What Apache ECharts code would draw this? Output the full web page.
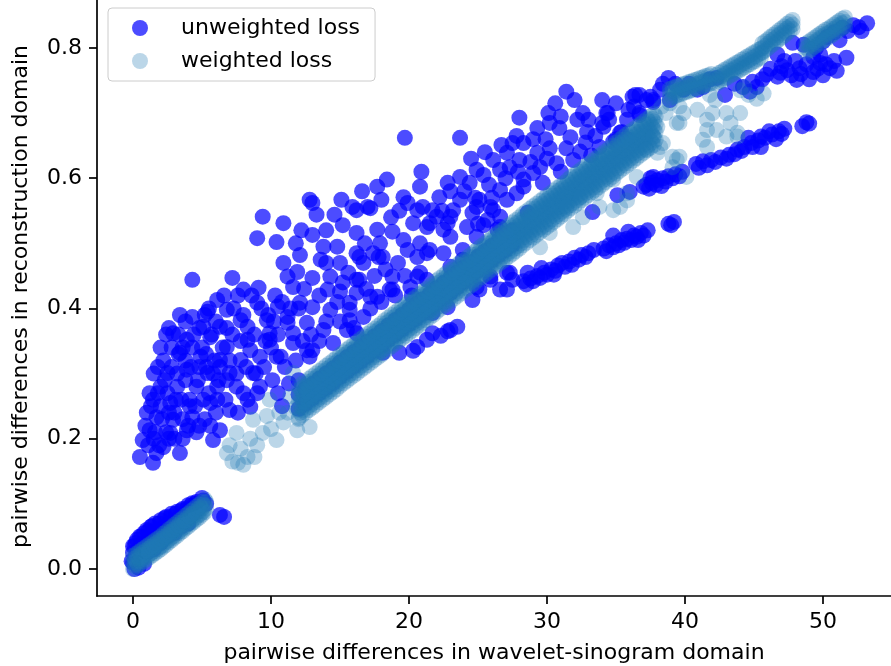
<!DOCTYPE html>
<html lang="en">
<head>
    <meta charset="UTF-8">
    <title>Pairwise differences</title>
    <style>
        html, body { margin: 0; padding: 0; background: #fff; }
        #chart { width: 891px; height: 666px; }
    </style>
    <script src="https://cdn.jsdelivr.net/npm/echarts@6/dist/echarts.min.js"></script>
</head>
<body>
    <div id="chart"></div>
    <script>
        // tick labels
        var xTicks = [0, 10, 20, 30, 40, 50];
        var yTicks = [0, 0.2, 0.4, 0.6, 0.8];

        // unweighted loss
        var unweightedLow = [
            [0.0,0.01],[0.0,0.025],[0.1,0.035],[0.2,0.02],[0.3,0.045],[0.4,0.03],[0.5,0.05],[0.6,0.038],
            [0.8,0.055],[0.9,0.042],[1.0,0.06],[1.2,0.05],[1.3,0.065],[1.5,0.055],[1.6,0.07],[1.8,0.06],
            [2.0,0.075],[2.2,0.065],[2.4,0.08],[2.6,0.07],[2.8,0.085],[3.0,0.075],[3.2,0.088],[3.4,0.08],
            [3.6,0.092],[3.8,0.085],[4.0,0.098],[4.3,0.09],[4.5,0.1],[4.8,0.095],[5.1,0.105],[0.3,0.01],
            [0.6,0.015],[1.0,0.025],[1.5,0.03],[2.0,0.04],[2.5,0.05],[3.0,0.055],[3.5,0.065],[4.0,0.07],
            [6.3,0.083],[6.6,0.08],[0.1,0.0],[-0.1,0.012],[4.3,0.101],[5.0,0.109],
            [0.2,0.04],[0.6,0.05],[1.1,0.058],[1.4,0.066],[1.9,0.07],[2.3,0.078],[2.7,0.08],[3.1,0.085],
            [3.5,0.09],[3.9,0.092],[4.2,0.097],[4.6,0.103],[4.9,0.1],[5.3,0.1],[0.0,0.035],[0.4,0.002],[0.8,0.008]
        ];
        var unweightedCloud = [
            [9.4,0.541],[10.9,0.531],[9.0,0.508],[10.4,0.502],[13.0,0.562],[13.3,0.544],[13.0,0.513],[12.1,0.482],
            [10.9,0.47],[11.2,0.449],[11.6,0.433],[13.0,0.447],[4.3,0.444],[7.2,0.447],[8.0,0.429],[9.1,0.432],
            [9.0,0.409],[10.5,0.403],[12.1,0.409],[6.1,0.413],[5.4,0.395],[6.8,0.398],[4.3,0.387],[2.9,0.362],
            [5.1,0.372],[6.3,0.372],[7.8,0.382],[9.7,0.382],[11.2,0.387],[3.9,0.352],[5.6,0.356],[6.8,0.341],
            [8.3,0.352],[9.9,0.352],[11.6,0.362],[12.6,0.336],[3.4,0.332],[4.9,0.326],[6.3,0.321],[7.8,0.321],
            [9.2,0.326],[10.7,0.326],[2.5,0.301],[3.9,0.306],[5.4,0.301],[7.0,0.301],[8.7,0.301],[10.1,0.29],
            [2.0,0.28],[3.2,0.28],[4.6,0.28],[6.1,0.28],[7.5,0.28],[9.0,0.27],[1.45,0.26],[2.7,0.255],
            [4.1,0.26],[5.6,0.255],[7.0,0.244],[8.5,0.249],[1.7,0.233],[2.9,0.229],[4.3,0.233],[6.3,0.213],
            [1.2,0.213],[2.7,0.209],[3.9,0.213],[5.8,0.198],[0.7,0.198],[2.2,0.187],[3.4,0.178],[0.5,0.172],
            [1.45,0.163],[1.7,0.178],
            [1.0,0.24],[1.5,0.3],[2.0,0.25],[2.2,0.32],[2.5,0.27],[2.8,0.34],[3.0,0.24],[3.2,0.3],
            [3.5,0.26],[3.6,0.34],[3.8,0.29],[4.0,0.22],[4.2,0.31],[4.4,0.36],[4.5,0.25],[4.7,0.29],
            [5.0,0.34],[5.2,0.23],[5.3,0.31],[5.5,0.27],[5.7,0.36],[5.9,0.32],[6.0,0.24],[6.2,0.29],
            [6.5,0.34],[6.7,0.26],[7.0,0.32],[7.2,0.36],[7.5,0.3],[7.8,0.35],[8.0,0.39],[8.2,0.31],
            [2.4,0.21],[1.9,0.19],[3.0,0.2],[1.2,0.27],[0.9,0.22],[2.6,0.37],[3.4,0.39],[5.5,0.4],
            [6.6,0.42],[9.5,0.31],[10.0,0.34],[8.8,0.36],[9.2,0.28],[8.0,0.27],[9.8,0.39],[10.5,0.36],
            [11.0,0.31],[11.8,0.32],[10.3,0.42],[10.5,0.27],[11.3,0.285],[12.0,0.29],[10.8,0.25],
            [1.3,0.25],[1.8,0.27],[2.3,0.29],[2.8,0.31],[3.3,0.33],[3.8,0.32],[4.3,0.34],[4.8,0.31],
            [5.3,0.33],[5.8,0.3],[6.3,0.31],[6.8,0.29],[1.6,0.21],[2.1,0.23],[2.6,0.24],[3.1,0.26],
            [3.6,0.23],[4.1,0.25],[4.6,0.21],[5.1,0.26],[5.6,0.22],[6.1,0.26],[3.3,0.36],[3.8,0.38],
            [4.8,0.37],[5.2,0.39],[6.0,0.38],[6.8,0.37],[7.3,0.4],[2.0,0.34],[2.4,0.36],[1.8,0.31],
            [1.1,0.19],[1.5,0.2],[2.6,0.2],[3.6,0.2],[4.8,0.22],[7.6,0.24],[8.3,0.26],[8.9,0.3],
            [9.6,0.35],[10.2,0.38],[9.3,0.4],[8.6,0.42],[7.6,0.42],[10.8,0.41],[11.4,0.4],[12.3,0.35],[12.9,0.36]
        ];
        var unweightedMid = [
            [19.7,0.662],[20.9,0.61],[20.8,0.587],[18.4,0.598],[17.7,0.587],[18.0,0.567],[19.6,0.571],[12.8,0.567],
            [15.1,0.567],[15.9,0.556],[17.2,0.554],[14.6,0.544],[15.2,0.528],[16.2,0.516],[17.7,0.521],[18.8,0.518],
            [19.9,0.562],[21.0,0.556],[22.0,0.541],[20.3,0.531],[21.5,0.531],[13.8,0.495],[14.8,0.495],[13.6,0.475],
            [16.2,0.485],[17.4,0.485],[18.1,0.479],[16.7,0.47],[18.8,0.449],[20.6,0.479],[21.3,0.485],[11.9,0.456],
            [14.3,0.449],[15.6,0.455],[16.4,0.444],[14.1,0.429],[15.0,0.426],[16.2,0.424],[17.7,0.418],[18.8,0.429],
            [13.0,0.402],[14.3,0.398],[15.7,0.398],[16.7,0.387],[11.2,0.378],[12.6,0.378],[13.8,0.367],[15.5,0.367],
            [9.9,0.362],[11.6,0.347],[13.0,0.336],[14.5,0.347],[8.3,0.372],[8.5,0.336],[10.4,0.326],[12.8,0.326],
            [19.6,0.505],[20.6,0.449],
            [16.2,0.551],[17.0,0.556],[20.6,0.551],[21.7,0.551],[23.0,0.541],[24.9,0.556],[25.9,0.556],[26.6,0.541],
            [21.3,0.525],[22.5,0.521],[25.4,0.528],[16.4,0.479],[17.8,0.479],[21.5,0.49],[16.2,0.444],[20.8,0.455],
            [23.0,0.464],[23.9,0.475],[25.1,0.479],[15.7,0.409],[17.2,0.418],[18.6,0.429],[20.1,0.433],[21.3,0.444],
            [15.7,0.382],[16.2,0.362],[23.0,0.367],[23.5,0.372],[20.6,0.341],[21.7,0.362],[21.7,0.393],[22.8,0.402],
            [21.3,0.352],[19.3,0.332],[18.1,0.332],[24.9,0.433],[25.9,0.444],[27.3,0.455],[27.1,0.429],
            [20.3,0.335],[22.3,0.358],[22.8,0.365],
            [12.4,0.43],[13.5,0.42],[14.8,0.41],[15.2,0.44],[16.9,0.43],[17.5,0.45],[18.3,0.46],[19.2,0.47],
            [19.9,0.49],[20.8,0.5],[14.0,0.47],[15.0,0.47],[16.8,0.5],[17.9,0.5],[18.7,0.54],[19.3,0.55],
            [14.0,0.52],[12.2,0.52],[11.8,0.5],[16.6,0.58],[15.0,0.38],[14.0,0.38],[12.0,0.4],[17.2,0.4],
            [19.7,0.45],[18.0,0.41],[13.5,0.35],[16.0,0.37],[19.0,0.42],[20.2,0.42]
        ];
        var unweightedUpper = [
            [31.4,0.733],[36.4,0.728],[37.7,0.717],[28.0,0.693],[30.1,0.7],[29.3,0.677],[30.2,0.685],[30.9,0.677],
            [32.6,0.7],[32.2,0.69],[34.4,0.7],[35.9,0.705],[36.7,0.697],[34.0,0.685],[32.9,0.671],[31.7,0.663],
            [35.4,0.671],[23.7,0.662],[26.7,0.651],[27.5,0.654],[28.3,0.654],[27.1,0.639],[26.1,0.628],[29.3,0.639],
            [30.2,0.646],[31.4,0.646],[32.4,0.641],[33.8,0.648],[34.8,0.656],[28.0,0.628],[29.5,0.617],[30.7,0.623],
            [31.9,0.628],[24.9,0.613],[23.7,0.602],[25.4,0.605],[26.6,0.613],[27.3,0.617],[29.0,0.608],[22.8,0.593],
            [24.4,0.593],[28.3,0.598],[29.7,0.593],[27.8,0.577],[26.6,0.582],[25.1,0.567],[23.7,0.567],[22.2,0.571],
            [23.2,0.551],[24.6,0.547],[26.1,0.551],[27.1,0.567],[28.3,0.587],[22.8,0.531],[24.2,0.525],[25.7,0.536],
            [28.6,0.547],[23.0,0.51],[24.9,0.51],[26.4,0.521],[22.5,0.485],[23.9,0.49],[35.1,0.574],[36.0,0.579],
            [33.3,0.548],[27.1,0.455],[25.9,0.449],[25.1,0.429],[26.6,0.429],[27.5,0.444],[24.6,0.413],[23.0,0.424],
            [23.7,0.449],[34.5,0.69],[35.0,0.66],[35.8,0.69],[36.3,0.71],
            [23.0,0.58],[24.0,0.58],[25.8,0.59],[27.0,0.6],[28.8,0.625],[30.0,0.63],[31.0,0.61],[32.8,0.655],
            [33.5,0.665],[31.0,0.695],[29.0,0.66],[27.8,0.665],[25.5,0.64],[24.5,0.63],[33.0,0.69],[35.0,0.715],
            [34.0,0.72],[32.0,0.72],[30.6,0.715],[26.0,0.57],[24.8,0.57],[27.9,0.61],[29.9,0.66],[33.2,0.635],
            [35.8,0.66],[22.4,0.55],[25.0,0.53],[26.6,0.525]
        ];
        var unweightedStreaks = [
            [28.3,0.442],[28.8,0.446],[29.3,0.45],[29.8,0.455],[30.3,0.46],[30.8,0.466],[31.1,0.47],[31.6,0.472],
            [32.0,0.478],[32.5,0.482],[33.0,0.485],[34.1,0.492],[34.5,0.497],[35.0,0.5],[35.4,0.505],[35.8,0.507],
            [36.3,0.512],[36.8,0.516],[37.3,0.52],[38.8,0.53],[39.2,0.533],[28.6,0.455],[29.6,0.462],[30.5,0.452],
            [34.8,0.512],[35.9,0.518],[33.4,0.49],[36.6,0.505],
            [28.5,0.437],[29.0,0.442],[29.5,0.447],[30.0,0.452],[30.6,0.458],[31.3,0.464],[31.8,0.467],[32.3,0.475],
            [32.8,0.479],[34.3,0.488],[34.8,0.494],[35.2,0.497],[35.6,0.501],[36.1,0.505],[36.5,0.51],[37.0,0.512],[39.0,0.528],
            [37.2,0.59],[37.6,0.593],[38.0,0.597],[38.4,0.6],[38.8,0.603],[39.3,0.606],[39.8,0.61],[40.8,0.622],
            [41.3,0.626],[41.9,0.628],[42.6,0.632],[43.2,0.636],[43.8,0.644],[44.3,0.648],[44.8,0.654],[45.3,0.658],
            [45.8,0.662],[46.3,0.667],[46.8,0.672],[47.2,0.676],[48.5,0.68],[49.0,0.684],[37.5,0.6],[38.3,0.588],
            [44.6,0.662],[45.5,0.648],[46.6,0.66],[37.7,0.602],[37.0,0.587],
            [37.4,0.584],[37.9,0.59],[38.6,0.595],[39.1,0.6],[39.6,0.603],[41.0,0.616],[41.6,0.62],[42.2,0.625],
            [43.0,0.63],[43.6,0.637],[44.1,0.642],[44.9,0.648],[45.5,0.664],[46.1,0.672],[47.0,0.668],[48.8,0.686]
        ];
        var unweightedTop = [
            [38.8,0.754],[37.5,0.725],[38.2,0.736],[36.7,0.728],[36.7,0.7],[39.9,0.736],[40.9,0.736],[42.3,0.754],
            [42.9,0.728],[44.2,0.74],[44.9,0.748],[44.7,0.733],[45.9,0.759],[46.7,0.79],[46.7,0.756],[47.4,0.766],
            [48.1,0.751],[48.3,0.769],[49.3,0.763],[49.8,0.777],[50.5,0.769],[51.7,0.785],[47.8,0.808],[48.6,0.805],
            [50.3,0.817],[51.4,0.831],[52.2,0.835],[53.2,0.838],[51.2,0.812],[49.3,0.786],[36.2,0.725],[34.3,0.7],
            [35.3,0.67],[34.1,0.679],[37.7,0.72],[47.0,0.772],[47.7,0.758],[48.8,0.775],[49.0,0.752],[49.6,0.768],
            [50.0,0.758],[48.0,0.78],[46.2,0.768],[46.9,0.762],[45.6,0.752],[50.8,0.824],[51.8,0.826],[52.6,0.832],
            [50.0,0.81],[49.5,0.8],[40.3,0.745],[41.3,0.74],[41.8,0.752],[38.9,0.72],[37.2,0.72],
            [47.2,0.78],[48.4,0.76],[50.2,0.775],[50.8,0.78],[51.0,0.765],[49.8,0.79],[43.6,0.745],[45.2,0.74],
            [39.3,0.745],[38.4,0.745],[52.8,0.826]
        ];
        // unweighted points lying inside the diagonal band (mostly hidden under the weighted ones)
        var unweightedBandX = [12,12.5,13,13.5,14,14.5,15,15.5,16,16.5,17,17.5,18,18.5,19,19.5,20,20.5,21,21.5,22,22.5,23,23.5,24,24.5,25,25.5,26,26.5,27,27.5];
        var unweightedBandLow = [0.246,0.254,0.262,0.270,0.278,0.286,0.295,0.303,0.311,0.319,0.327,0.335,0.343,0.352,0.360,0.368,0.376,0.384,0.392,0.400,0.409,0.417,0.425,0.433,0.441,0.449,0.458,0.466,0.474,0.482,0.490,0.498];
        var unweightedBandHigh = [0.268,0.276,0.284,0.292,0.300,0.308,0.317,0.325,0.333,0.341,0.349,0.357,0.365,0.374,0.382,0.390,0.398,0.406,0.414,0.422,0.431,0.439,0.447,0.455,0.463,0.471,0.480,0.488,0.496,0.504,0.512,0.520];

        // weighted loss: the dense low cluster, x lists and rows across it
        var weightedLowX = [0,0.2,0.4,0.6,0.8,1.0,1.2,1.4,1.6,1.8,2.0,2.2,2.4,2.6,2.8,3.0,3.2,3.4,3.6,3.8,4.0,4.2,4.4,4.6,4.8,5.0,5.2];
        var weightedLowA = [0.000,0.003,0.006,0.009,0.012,0.015,0.018,0.021,0.024,0.027,0.030,0.034,0.037,0.041,0.044,0.048,0.051,0.055,0.058,0.062,0.065,0.069,0.072,0.076,0.079,0.083,0.087];
        var weightedLowB = [0.010,0.013,0.016,0.019,0.022,0.025,0.028,0.031,0.034,0.037,0.040,0.044,0.047,0.051,0.054,0.058,0.061,0.065,0.068,0.072,0.075,0.079,0.082,0.086,0.089,0.093,0.097];
        var weightedLowC = [0.020,0.023,0.026,0.029,0.032,0.035,0.038,0.041,0.044,0.047,0.050,0.054,0.057,0.061,0.064,0.068,0.071,0.075,0.078,0.082,0.085,0.089,0.092,0.096,0.099,0.103,0.107];
        var weightedLowX2 = [0.1,0.3,0.5,0.7,0.9,1.1,1.3,1.5,1.7,1.9,2.1,2.3,2.5,2.7,2.9,3.1,3.3,3.5,3.7,3.9,4.1,4.3,4.5,4.7,4.9,5.1,5.3];
        var weightedLowD = [0.006,0.009,0.012,0.015,0.018,0.021,0.024,0.027,0.030,0.033,0.036,0.040,0.043,0.047,0.050,0.054,0.057,0.061,0.064,0.068,0.071,0.075,0.078,0.082,0.085,0.089,0.093];
        var weightedLowE = [0.016,0.019,0.022,0.025,0.028,0.031,0.034,0.037,0.040,0.043,0.046,0.050,0.053,0.057,0.060,0.064,0.067,0.071,0.074,0.078,0.081,0.085,0.088,0.092,0.095,0.099,0.103];

        var weightedBandStart = [
            [6.8,0.178],[7.2,0.165],[7.5,0.209],[7.8,0.185],[8.3,0.172],[8.5,0.2],[8.7,0.229],[9.0,0.19],
            [9.4,0.209],[9.7,0.235],[9.9,0.26],[10.0,0.215],[10.4,0.198],[10.6,0.24],[10.9,0.225],[11.2,0.24],
            [11.4,0.265],[11.6,0.301],[11.9,0.213],[11.8,0.248],[12.0,0.23],[12.6,0.28],[12.8,0.218],[7.0,0.19],
            [8.0,0.16],[7.6,0.163],[8.8,0.172]
        ];

        // main diagonal band: x positions and rows across the band
        var bandX = [
            12,12.25,12.5,12.75,13,13.25,13.5,13.75,14,14.25,14.5,14.75,15,15.25,15.5,15.75,
            16,16.25,16.5,16.75,17,17.25,17.5,17.75,18,18.25,18.5,18.75,19,19.25,19.5,19.75,
            20,20.25,20.5,20.75,21,21.25,21.5,21.75,22,22.25,22.5,22.75,23,23.25,23.5,23.75,
            24,24.25,24.5,24.75,25,25.25,25.5,25.75,26,26.25,26.5,26.75,27,27.25,27.5,27.75,
            28,28.25,28.5,28.75,29,29.25,29.5,29.75,30,30.25,30.5,30.75,31,31.25,31.5,31.75,
            32,32.25,32.5,32.75,33,33.25,33.5,33.75,34,34.25,34.5,34.75,35,35.25,35.5,35.75,
            36,36.25,36.5,36.75,37,37.25,37.5,37.75
        ];
        var bandA = [
            0.232,0.236,0.240,0.244,0.248,0.252,0.256,0.260,0.264,0.268,0.272,0.276,0.281,0.285,0.289,0.293,
            0.297,0.301,0.305,0.309,0.313,0.317,0.321,0.325,0.329,0.334,0.338,0.342,0.346,0.350,0.354,0.358,
            0.362,0.366,0.370,0.374,0.378,0.382,0.386,0.390,0.395,0.399,0.403,0.407,0.411,0.415,0.419,0.423,
            0.427,0.431,0.435,0.439,0.444,0.448,0.452,0.456,0.460,0.464,0.468,0.472,0.476,0.480,0.484,0.488,
            0.492,0.497,0.501,0.505,0.509,0.513,0.517,0.521,0.525,0.529,0.533,0.537,0.541,0.545,0.550,0.554,
            0.558,0.562,0.566,0.570,0.574,0.578,0.582,0.586,0.590,0.594,0.598,0.602,0.607,0.611,0.615,0.619,
            0.623,0.627,0.631,0.635,0.639,0.643,0.647,0.651
        ];
        var bandB = [
            0.244,0.248,0.252,0.256,0.260,0.264,0.268,0.272,0.276,0.280,0.284,0.288,0.293,0.297,0.301,0.305,
            0.309,0.313,0.317,0.321,0.325,0.329,0.333,0.337,0.341,0.346,0.350,0.354,0.358,0.362,0.366,0.370,
            0.374,0.378,0.382,0.386,0.390,0.394,0.398,0.402,0.407,0.411,0.415,0.419,0.423,0.427,0.431,0.435,
            0.439,0.443,0.447,0.451,0.456,0.460,0.464,0.468,0.472,0.476,0.480,0.484,0.488,0.492,0.496,0.500,
            0.504,0.509,0.513,0.517,0.521,0.525,0.529,0.533,0.537,0.541,0.545,0.549,0.553,0.557,0.562,0.566,
            0.570,0.574,0.578,0.582,0.586,0.590,0.594,0.598,0.602,0.606,0.610,0.614,0.619,0.623,0.627,0.631,
            0.635,0.639,0.643,0.647,0.651,0.655,0.659,0.663
        ];
        var bandC = [
            0.256,0.260,0.264,0.268,0.272,0.276,0.280,0.284,0.288,0.292,0.296,0.300,0.305,0.309,0.313,0.317,
            0.321,0.325,0.329,0.333,0.337,0.341,0.345,0.349,0.353,0.358,0.362,0.366,0.370,0.374,0.378,0.382,
            0.386,0.390,0.394,0.398,0.402,0.406,0.410,0.414,0.419,0.423,0.427,0.431,0.435,0.439,0.443,0.447,
            0.451,0.455,0.459,0.463,0.468,0.472,0.476,0.480,0.484,0.488,0.492,0.496,0.500,0.504,0.508,0.512,
            0.516,0.521,0.525,0.529,0.533,0.537,0.541,0.545,0.549,0.553,0.557,0.561,0.565,0.569,0.574,0.578,
            0.582,0.586,0.590,0.594,0.598,0.602,0.606,0.610,0.614,0.618,0.622,0.626,0.631,0.635,0.639,0.643,
            0.647,0.651,0.655,0.659,0.663,0.667,0.671,0.675
        ];
        var bandD = [
            0.268,0.272,0.276,0.280,0.284,0.288,0.292,0.296,0.300,0.304,0.308,0.312,0.317,0.321,0.325,0.329,
            0.333,0.337,0.341,0.345,0.349,0.353,0.357,0.361,0.365,0.370,0.374,0.378,0.382,0.386,0.390,0.394,
            0.398,0.402,0.406,0.410,0.414,0.418,0.422,0.426,0.431,0.435,0.439,0.443,0.447,0.451,0.455,0.459,
            0.463,0.467,0.471,0.475,0.480,0.484,0.488,0.492,0.496,0.500,0.504,0.508,0.512,0.516,0.520,0.524,
            0.528,0.533,0.537,0.541,0.545,0.549,0.553,0.557,0.561,0.565,0.569,0.573,0.577,0.581,0.586,0.590,
            0.594,0.598,0.602,0.606,0.610,0.614,0.618,0.622,0.626,0.630,0.634,0.638,0.643,0.647,0.651,0.655,
            0.659,0.663,0.667,0.671,0.675,0.679,0.683,0.687
        ];
        var bandE = [
            0.280,0.284,0.288,0.292,0.296,0.300,0.304,0.308,0.312,0.316,0.320,0.324,0.329,0.333,0.337,0.341,
            0.345,0.349,0.353,0.357,0.361,0.365,0.369,0.373,0.377,0.382,0.386,0.390,0.394,0.398,0.402,0.406,
            0.410,0.414,0.418,0.422,0.426,0.430,0.434,0.438,0.443,0.447,0.451,0.455,0.459,0.463,0.467,0.471,
            0.475,0.479,0.483,0.487,0.492,0.496,0.500,0.504,0.508,0.512,0.516,0.520,0.524,0.528,0.532,0.536,
            0.540,0.545,0.549,0.553,0.557,0.561,0.565,0.569,0.573,0.577,0.581,0.585,0.589,0.593,0.598,0.602,
            0.606,0.610,0.614,0.618,0.622,0.626,0.630,0.634,0.638,0.642,0.646,0.650,0.655,0.659,0.663,0.667,
            0.671,0.675,0.679,0.683,0.687,0.691,0.695,0.699
        ];
        var bandX2 = [
            12.125,12.375,12.625,12.875,13.125,13.375,13.625,13.875,14.125,14.375,14.625,14.875,15.125,15.375,15.625,15.875,
            16.125,16.375,16.625,16.875,17.125,17.375,17.625,17.875,18.125,18.375,18.625,18.875,19.125,19.375,19.625,19.875,
            20.125,20.375,20.625,20.875,21.125,21.375,21.625,21.875,22.125,22.375,22.625,22.875,23.125,23.375,23.625,23.875,
            24.125,24.375,24.625,24.875,25.125,25.375,25.625,25.875,26.125,26.375,26.625,26.875,27.125,27.375,27.625,27.875,
            28.125,28.375,28.625,28.875,29.125,29.375,29.625,29.875,30.125,30.375,30.625,30.875,31.125,31.375,31.625,31.875,
            32.125,32.375,32.625,32.875,33.125,33.375,33.625,33.875,34.125,34.375,34.625,34.875,35.125,35.375,35.625,35.875,
            36.125,36.375,36.625,36.875,37.125,37.375,37.625,37.875
        ];
        var bandF = [
            0.240,0.244,0.248,0.252,0.256,0.260,0.264,0.268,0.272,0.276,0.280,0.284,0.289,0.293,0.297,0.301,
            0.305,0.309,0.313,0.317,0.321,0.325,0.329,0.333,0.337,0.342,0.346,0.350,0.354,0.358,0.362,0.366,
            0.370,0.374,0.378,0.382,0.386,0.390,0.394,0.398,0.403,0.407,0.411,0.415,0.419,0.423,0.427,0.431,
            0.435,0.439,0.443,0.447,0.452,0.456,0.460,0.464,0.468,0.472,0.476,0.480,0.484,0.488,0.492,0.496,
            0.500,0.505,0.509,0.513,0.517,0.521,0.525,0.529,0.533,0.537,0.541,0.545,0.549,0.553,0.558,0.562,
            0.566,0.570,0.574,0.578,0.582,0.586,0.590,0.594,0.598,0.602,0.606,0.610,0.615,0.619,0.623,0.627,
            0.631,0.635,0.639,0.643,0.647,0.651,0.655,0.659
        ];
        var bandG = [
            0.252,0.256,0.260,0.264,0.268,0.272,0.276,0.280,0.284,0.288,0.292,0.296,0.301,0.305,0.309,0.313,
            0.317,0.321,0.325,0.329,0.333,0.337,0.341,0.345,0.349,0.354,0.358,0.362,0.366,0.370,0.374,0.378,
            0.382,0.386,0.390,0.394,0.398,0.402,0.406,0.410,0.415,0.419,0.423,0.427,0.431,0.435,0.439,0.443,
            0.447,0.451,0.455,0.459,0.464,0.468,0.472,0.476,0.480,0.484,0.488,0.492,0.496,0.500,0.504,0.508,
            0.512,0.517,0.521,0.525,0.529,0.533,0.537,0.541,0.545,0.549,0.553,0.557,0.561,0.565,0.570,0.574,
            0.578,0.582,0.586,0.590,0.594,0.598,0.602,0.606,0.610,0.614,0.618,0.622,0.627,0.631,0.635,0.639,
            0.643,0.647,0.651,0.655,0.659,0.663,0.667,0.671
        ];
        var bandH = [
            0.264,0.268,0.272,0.276,0.280,0.284,0.288,0.292,0.296,0.300,0.304,0.308,0.313,0.317,0.321,0.325,
            0.329,0.333,0.337,0.341,0.345,0.349,0.353,0.357,0.361,0.366,0.370,0.374,0.378,0.382,0.386,0.390,
            0.394,0.398,0.402,0.406,0.410,0.414,0.418,0.422,0.427,0.431,0.435,0.439,0.443,0.447,0.451,0.455,
            0.459,0.463,0.467,0.471,0.476,0.480,0.484,0.488,0.492,0.496,0.500,0.504,0.508,0.512,0.516,0.520,
            0.524,0.529,0.533,0.537,0.541,0.545,0.549,0.553,0.557,0.561,0.565,0.569,0.573,0.577,0.582,0.586,
            0.590,0.594,0.598,0.602,0.606,0.610,0.614,0.618,0.622,0.626,0.630,0.634,0.639,0.643,0.647,0.651,
            0.655,0.659,0.663,0.667,0.671,0.675,0.679,0.683
        ];
        var bandI = [
            0.276,0.280,0.284,0.288,0.292,0.296,0.300,0.304,0.308,0.312,0.316,0.320,0.325,0.329,0.333,0.337,
            0.341,0.345,0.349,0.353,0.357,0.361,0.365,0.369,0.373,0.378,0.382,0.386,0.390,0.394,0.398,0.402,
            0.406,0.410,0.414,0.418,0.422,0.426,0.430,0.434,0.439,0.443,0.447,0.451,0.455,0.459,0.463,0.467,
            0.471,0.475,0.479,0.483,0.488,0.492,0.496,0.500,0.504,0.508,0.512,0.516,0.520,0.524,0.528,0.532,
            0.536,0.541,0.545,0.549,0.553,0.557,0.561,0.565,0.569,0.573,0.577,0.581,0.585,0.589,0.594,0.598,
            0.602,0.606,0.610,0.614,0.618,0.622,0.626,0.630,0.634,0.638,0.642,0.646,0.651,0.655,0.659,0.663,
            0.667,0.671,0.675,0.679,0.683,0.687,0.691,0.695
        ];

        var weightedLight = [
            [31.9,0.525],[32.6,0.54],[33.8,0.556],[29.5,0.494],[30.2,0.516],[35.3,0.556],[35.8,0.577],[36.5,0.602],
            [34.8,0.598],[33.6,0.577],[32.4,0.571],[31.4,0.556],[34.8,0.551],[35.8,0.566]
        ];
        var weightedCloud = [
            [39.9,0.70],[40.9,0.705],[39.6,0.685],[41.6,0.69],[42.0,0.70],[43.0,0.70],[44.0,0.70],[43.3,0.685],
            [41.6,0.674],[42.3,0.674],[41.3,0.659],[41.6,0.648],[43.0,0.664],[43.8,0.664],[38.0,0.679],[37.7,0.664],
            [38.4,0.654],[37.2,0.644],[38.0,0.639],[39.1,0.633],[39.6,0.633],[40.1,0.602],[39.1,0.617],[38.2,0.648],
            [39.4,0.685],[43.8,0.67],[39.4,0.628],[38.6,0.7],[38.3,0.71],
            [38.9,0.715],[39.6,0.71],[41.8,0.728],[42.2,0.72],[44.0,0.735],[44.6,0.728],[45.2,0.722],[45.7,0.73],[44.3,0.74]
        ];

        // the short dense strokes near the top right: x list and three rows
        var topX = [
            38.9,39.1,39.3,39.5,39.7,39.9,40.1,40.3,40.5,40.7,40.9,41.1,41.3,41.5,41.7,41.9,
            42.3,42.5,42.7,42.9,43.1,43.3,43.5,43.7,43.9,44.1,44.3,44.5,44.7,44.9,45.1,45.3,45.5,
            45.6,45.8,46.0,46.2,46.4,46.6,46.8,47.0,47.2,47.4,47.6,47.8,
            48.8,49.0,49.2,49.4,49.6,49.8,50.0,50.2,50.4,50.6,50.8,51.0,51.2,51.4,51.6
        ];
        var topLow = [
            0.723,0.725,0.726,0.728,0.729,0.731,0.732,0.734,0.735,0.737,0.738,0.740,0.741,0.743,0.744,0.746,
            0.745,0.748,0.750,0.753,0.755,0.758,0.760,0.763,0.765,0.768,0.770,0.773,0.775,0.778,0.780,0.783,0.785,
            0.793,0.796,0.799,0.803,0.806,0.809,0.813,0.816,0.819,0.823,0.826,0.829,
            0.793,0.796,0.799,0.802,0.805,0.808,0.811,0.814,0.816,0.819,0.822,0.825,0.828,0.831,0.833
        ];
        var topMid = [
            0.730,0.732,0.733,0.735,0.736,0.738,0.739,0.741,0.742,0.744,0.745,0.747,0.748,0.750,0.751,0.753,
            0.752,0.755,0.757,0.760,0.762,0.765,0.767,0.770,0.772,0.775,0.777,0.780,0.782,0.785,0.787,0.790,0.792,
            0.800,0.803,0.806,0.810,0.813,0.816,0.820,0.823,0.826,0.830,0.833,0.836,
            0.800,0.803,0.806,0.809,0.812,0.815,0.818,0.821,0.823,0.826,0.829,0.832,0.835,0.838,0.840
        ];
        var topHigh = [
            0.737,0.739,0.740,0.742,0.743,0.745,0.746,0.748,0.749,0.751,0.752,0.754,0.755,0.757,0.758,0.760,
            0.759,0.762,0.764,0.767,0.769,0.772,0.774,0.777,0.779,0.782,0.784,0.787,0.789,0.792,0.794,0.797,0.799,
            0.807,0.810,0.813,0.817,0.820,0.823,0.827,0.830,0.833,0.837,0.840,0.843,
            0.807,0.810,0.813,0.816,0.819,0.822,0.825,0.828,0.830,0.833,0.836,0.839,0.842,0.845,0.847
        ];

        function zip(xs, ys) {
            return xs.map(function (x, i) { return [x, ys[i]]; });
        }

        var unweighted = [].concat(
            unweightedLow, unweightedCloud, unweightedMid, unweightedUpper, unweightedStreaks, unweightedTop,
            zip(unweightedBandX, unweightedBandLow), zip(unweightedBandX, unweightedBandHigh)
        );
        var weighted = [].concat(
            zip(weightedLowX, weightedLowA), zip(weightedLowX, weightedLowB), zip(weightedLowX, weightedLowC),
            zip(weightedLowX2, weightedLowD), zip(weightedLowX2, weightedLowE),
            weightedBandStart,
            zip(bandX, bandA), zip(bandX, bandB), zip(bandX, bandC), zip(bandX, bandD), zip(bandX, bandE),
            zip(bandX2, bandF), zip(bandX2, bandG), zip(bandX2, bandH), zip(bandX2, bandI),
            weightedLight, weightedCloud,
            zip(topX, topLow), zip(topX, topMid), zip(topX, topHigh)
        );

        var chart = echarts.init(document.getElementById('chart'), null, { renderer: 'canvas' });

        var font = 'DejaVu Sans';
        var axisColor = '#000';

        var option = {
            animation: false,
            grid: { left: 97, right: 0, top: -3, bottom: 70, outerBoundsMode: 'none', containLabel: false },
            legend: {
                orient: 'vertical',
                left: 108,
                top: 8,
                selectedMode: false,
                itemWidth: 36,
                itemHeight: 16,
                itemGap: 11,
                padding: [9, 15, 9, 24],
                backgroundColor: 'rgba(255,255,255,0.8)',
                borderColor: '#cccccc',
                borderWidth: 1,
                borderRadius: 4,
                textStyle: { fontFamily: font, fontSize: 22, color: '#000', padding: [0, 0, 0, 18] },
                data: [
                    { name: 'unweighted loss', icon: 'circle' },
                    { name: 'weighted loss', icon: 'circle' }
                ]
            },
            xAxis: {
                type: 'value',
                min: -2.609,
                max: 54.93,
                name: 'pairwise differences in wavelet-sinogram domain',
                nameLocation: 'middle',
                nameGap: 46,
                nameTextStyle: { fontFamily: font, fontSize: 22, color: axisColor },
                axisLine: { onZero: false, lineStyle: { color: axisColor, width: 1.7 } },
                axisTick: { show: true, length: 8, lineStyle: { color: axisColor, width: 1.7 }, customValues: xTicks },
                axisLabel: { fontFamily: font, fontSize: 22, color: axisColor, margin: 15, customValues: xTicks },
                splitLine: { show: false }
            },
            yAxis: {
                type: 'value',
                min: -0.04146,
                max: 0.8783,
                name: 'pairwise differences in reconstruction domain',
                nameLocation: 'middle',
                nameGap: 65,
                nameTextStyle: { fontFamily: font, fontSize: 22, color: axisColor },
                axisLine: { show: true, onZero: false, lineStyle: { color: axisColor, width: 1.7 } },
                axisTick: { show: true, length: 8, lineStyle: { color: axisColor, width: 1.7 }, customValues: yTicks },
                axisLabel: {
                    fontFamily: font, fontSize: 22, color: axisColor, margin: 15, customValues: yTicks,
                    formatter: function (v) { return v.toFixed(1); }
                },
                splitLine: { show: false }
            },
            series: [
                {
                    name: 'unweighted loss',
                    type: 'scatter',
                    symbol: 'circle',
                    symbolSize: 16,
                    itemStyle: { color: 'rgba(0,0,255,0.7)', opacity: 1 },
                    emphasis: { disabled: true },
                    data: unweighted
                },
                {
                    name: 'weighted loss',
                    type: 'scatter',
                    symbol: 'circle',
                    symbolSize: 16,
                    itemStyle: { color: 'rgba(31,119,180,0.3)', opacity: 1 },
                    emphasis: { disabled: true },
                    data: weighted
                }
            ]
        };

        chart.setOption(option);
    </script>
</body>
</html>
